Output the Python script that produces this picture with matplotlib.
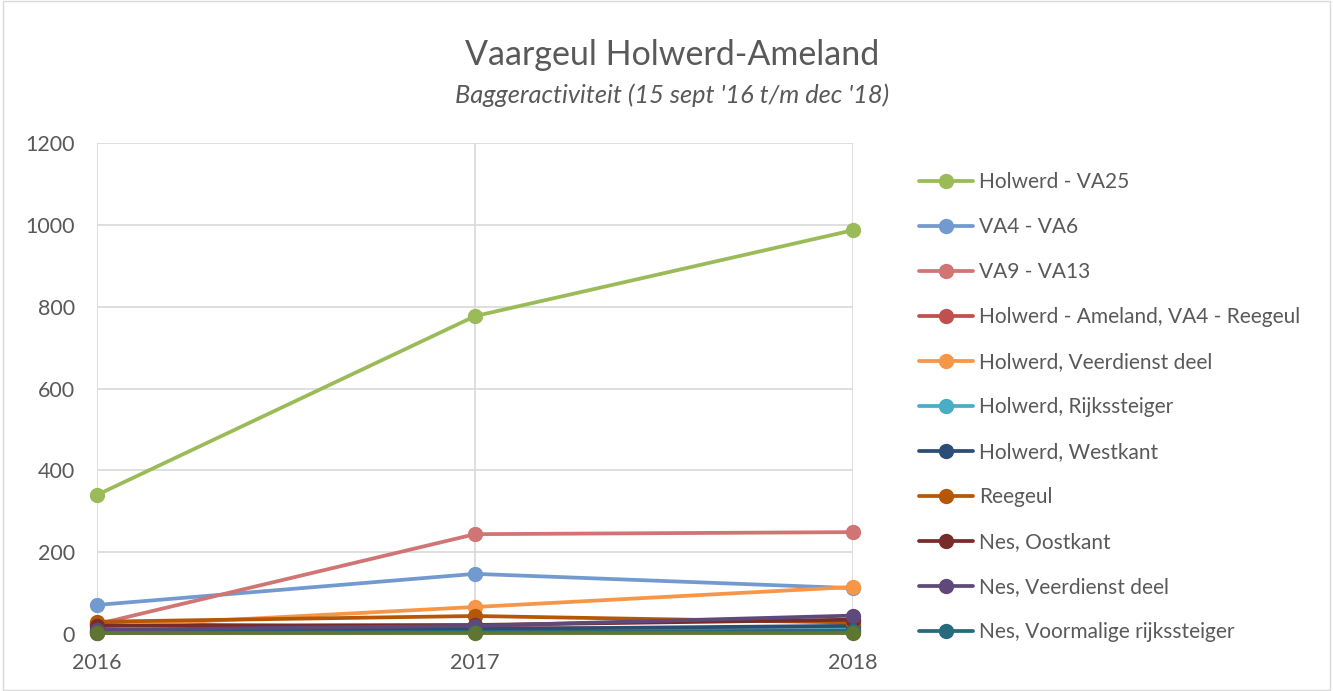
import matplotlib.pyplot as plt
from matplotlib.patches import Rectangle

# data
jaren = [2016, 2017, 2018]
series_namen = [
    'Holwerd - VA25',
    'VA4 - VA6',
    'VA9 - VA13',
    'Holwerd - Ameland, VA4 - Reegeul',
    'Holwerd, Veerdienst deel',
    'Holwerd, Rijkssteiger',
    'Holwerd, Westkant',
    'Reegeul',
    'Nes, Oostkant',
    'Nes, Veerdienst deel',
    'Nes, Voormalige rijkssteiger',
    'Overig',
]
holwerd_va25 = [340, 777, 987]
va4_va6 = [71, 147, 112]
va9_va13 = [24, 244, 249]
holwerd_ameland = [25, 15, 12]
holwerd_veerdienst = [18, 66, 115]
holwerd_rijkssteiger = [5, 8, 10]
holwerd_westkant = [8, 12, 20]
reegeul = [30, 44, 28]
nes_oostkant = [20, 22, 35]
nes_veerdienst = [10, 20, 45]
nes_voormalig = [3, 5, 8]
overig = [2, 2, 2]

waarden = [holwerd_va25, va4_va6, va9_va13, holwerd_ameland, holwerd_veerdienst,
           holwerd_rijkssteiger, holwerd_westkant, reegeul, nes_oostkant,
           nes_veerdienst, nes_voormalig, overig]
kleuren = ['#9BBB59', '#729ACF', '#D07474', '#C0504D', '#F79646', '#4BACC6',
           '#2C4D75', '#B65708', '#772C2A', '#5F497A', '#276A7C', '#5F7530']

plt.rcParams['font.family'] = ['Lato', 'DejaVu Sans']
tekst = '#595959'

fig = plt.figure(figsize=(13.33, 6.91), dpi=100)
ax = fig.add_axes([0.0728, 0.0825, 0.5672, 0.7105])

lijnen = []
for naam, vals, kleur in zip(series_namen, waarden, kleuren):
    l, = ax.plot(jaren, vals, color=kleur, lw=2.7, marker='o', markersize=10,
                 label=naam, solid_capstyle='round', clip_on=False, zorder=3)
    lijnen.append(l)

ax.set_xlim(2016, 2018)
ax.set_ylim(0, 1200)
ax.set_xticks(jaren)
ax.set_yticks(range(0, 1201, 200))
ax.grid(True, color='#D9D9D9', lw=1.2)
ax.set_axisbelow(True)
for s in ['top', 'right', 'left']:
    ax.spines[s].set_visible(False)
ax.spines['bottom'].set_color('#BFBFBF')
ax.tick_params(length=0, colors=tekst, labelsize=15.5)
ax.tick_params(axis='x', pad=14)
ax.tick_params(axis='y', pad=16)

fig.text(0.504, 0.92, 'Vaargeul Holwerd-Ameland', ha='center', va='center',
         fontsize=24.5, color=tekst)
fig.text(0.504, 0.862, "Baggeractiviteit (15 sept '16 t/m dec '18)", ha='center',
         va='center', fontsize=18.3, style='italic', color=tekst)

leg = fig.legend(handles=lijnen[:11], loc='upper left', bbox_to_anchor=(0.683, 0.763),
                 frameon=False, fontsize=15, labelcolor=tekst, handlelength=2.6,
                 labelspacing=1.2, handletextpad=0.3, borderaxespad=0)

fig.add_artist(Rectangle((0.002, 0.002), 0.996, 0.996, transform=fig.transFigure,
                         fill=False, edgecolor='#D9D9D9', lw=1))

fig.savefig('out.png', dpi=100)
